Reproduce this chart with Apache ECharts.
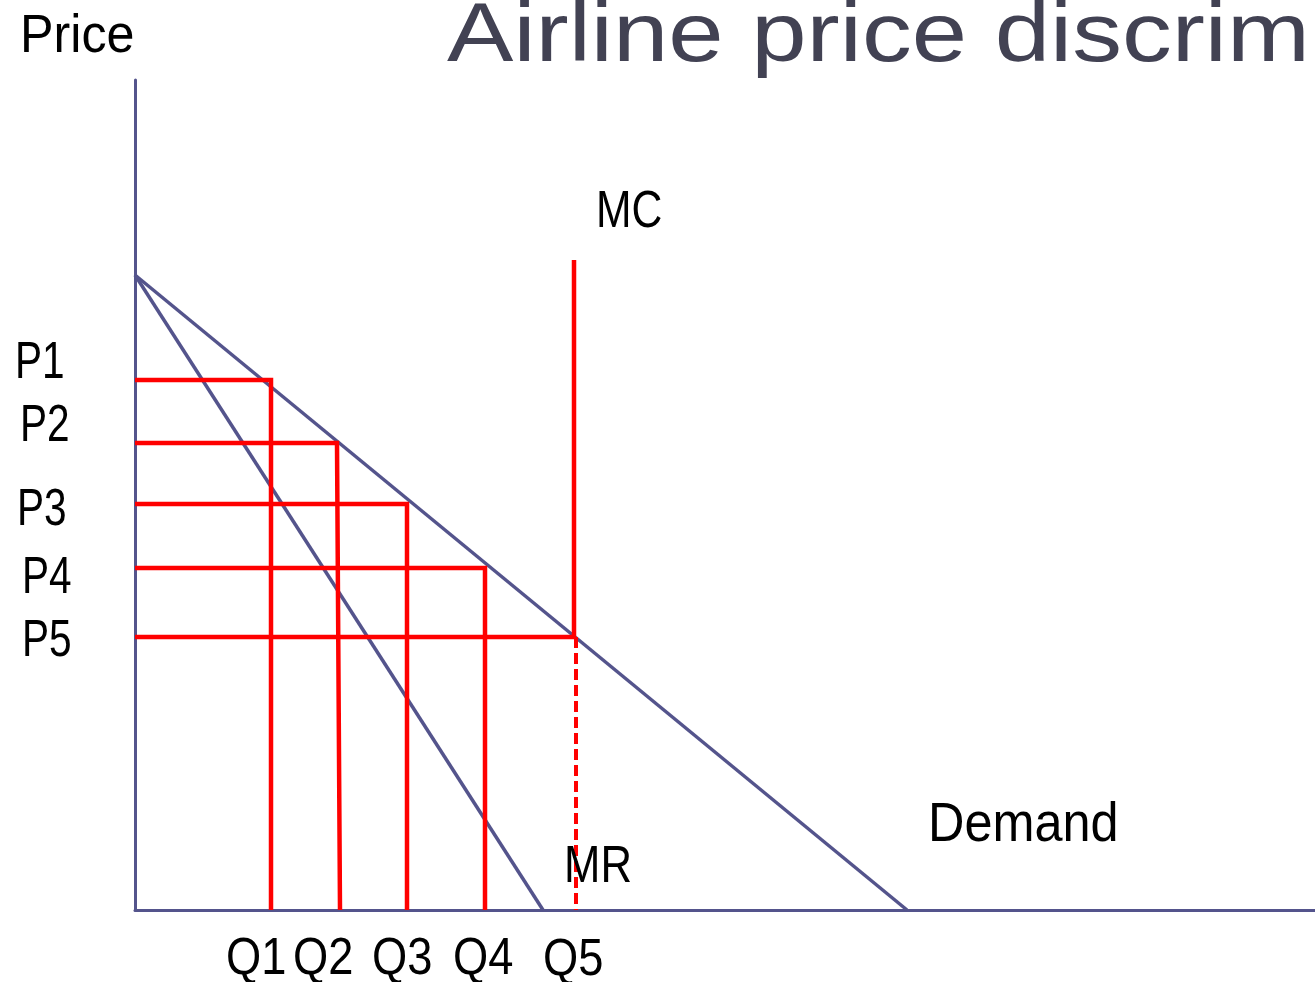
<!DOCTYPE html>
<html>
<head>
<meta charset="utf-8">
<script src="https://cdn.jsdelivr.net/npm/echarts@6/dist/echarts.min.js"></script>
<style>
  html, body { margin: 0; padding: 0; background: #ffffff; }
  #chart { width: 1315px; height: 982px; }
</style>
</head>
<body>
<div id="chart"></div>
<script>
// Linear demand and marginal revenue curves: [quantity, price] end points
const demandLine = [[0, 63.5], [77.2, 0]];
const mrLine = [[0, 63.5], [40.8, 0]];

// Price tiers charged to successive groups of passengers
const priceLabels = ['P1', 'P2', 'P3', 'P4', 'P5'];
const prices = [53.0, 46.7, 40.6, 34.2, 27.3];

// Quantity sold at each price tier (top of the drop line and where it meets the axis)
const quantityLabels = ['Q1', 'Q2', 'Q3', 'Q4', 'Q5'];
const quantities = [13.6, 20.2, 27.2, 35.0, 43.9];
const quantityFeet = [13.6, 20.5, 27.2, 35.0, 44.1];

// Marginal cost: vertical line at the last quantity, rising to this price
const mcTop = 65.0;

const AXIS_BLUE = '#54548c';
const RED = '#ff0000';
const FONT = '"Liberation Sans", Arial, sans-serif';

const chart = echarts.init(document.getElementById('chart'), null, { renderer: 'canvas' });

const series = [
  {
    name: 'Demand', type: 'line', data: demandLine, symbol: 'none', z: 3,
    lineStyle: { color: AXIS_BLUE, width: 3.5 }
  },
  {
    name: 'MR', type: 'line', data: mrLine, symbol: 'none', z: 3,
    lineStyle: { color: AXIS_BLUE, width: 3.5 }
  }
];

// Price/quantity rectangles for the first four tiers
for (let i = 0; i < prices.length - 1; i++) {
  series.push({
    name: priceLabels[i], type: 'line', symbol: 'none', z: 4,
    data: [[0, prices[i]], [quantities[i], prices[i]], [quantityFeet[i], 0]],
    lineStyle: { color: RED, width: 4.5, join: 'miter' }
  });
}

// Last tier: price line to the MC curve, MC itself, and a dashed drop to Q5
const last = prices.length - 1;
series.push({
  name: priceLabels[last], type: 'line', symbol: 'none', z: 4,
  data: [[0, prices[last]], [quantities[last], prices[last]]],
  lineStyle: { color: RED, width: 4.5 }
});
series.push({
  name: 'MC', type: 'line', symbol: 'none', z: 4,
  data: [[quantities[last], mcTop], [quantities[last], prices[last]]],
  lineStyle: { color: RED, width: 4.5 }
});
series.push({
  name: 'Q5 drop', type: 'line', symbol: 'none', z: 4,
  data: [[quantityFeet[last], prices[last]], [quantityFeet[last], 0]],
  lineStyle: { color: RED, width: 4, type: [11, 5] }
});

// Text annotations: left edge, vertical centre, size, horizontal squeeze
function label(text, x, y, size, sx, color) {
  return {
    type: 'text', x: x, y: y, scaleX: sx, z: 10,
    style: {
      text: text, x: 0, y: 0, fill: color || '#000000',
      font: size + 'px ' + FONT, align: 'left', verticalAlign: 'middle'
    }
  };
}

const pLabelPos = [[15, 364], [20, 427], [17, 511], [22, 579], [22, 642]];
const qLabelPos = [[226, 960], [293, 960], [372, 960], [453, 960], [543, 961]];

const graphics = [
  label('Airline price discrim', 447, 38, 84, 1.185, '#424253'),
  label('Price', 20, 37, 54, 0.93),
  label('MC', 596, 213, 52, 0.82),
  label('MR', 564, 868, 52, 0.84),
  label('Demand', 928, 826, 56, 0.9)
];
priceLabels.forEach((t, i) => graphics.push(label(t, pLabelPos[i][0], pLabelPos[i][1], 52, 0.78)));
quantityLabels.forEach((t, i) => graphics.push(label(t, qLabelPos[i][0], qLabelPos[i][1], 52, 0.87)));

chart.setOption({
  animation: false,
  backgroundColor: '#ffffff',
  grid: { left: 135, right: 0, top: 80, bottom: 72, containLabel: false },
  xAxis: {
    type: 'value', min: 0, max: 118,
    axisLine: { show: true, onZero: false, lineStyle: { color: AXIS_BLUE, width: 3 } },
    axisTick: { show: false }, axisLabel: { show: false }, splitLine: { show: false }
  },
  yAxis: {
    type: 'value', min: 0, max: 83,
    axisLine: { show: true, onZero: false, lineStyle: { color: AXIS_BLUE, width: 3 } },
    axisTick: { show: false }, axisLabel: { show: false }, splitLine: { show: false }
  },
  series: series,
  graphic: graphics
});
</script>
</body>
</html>
